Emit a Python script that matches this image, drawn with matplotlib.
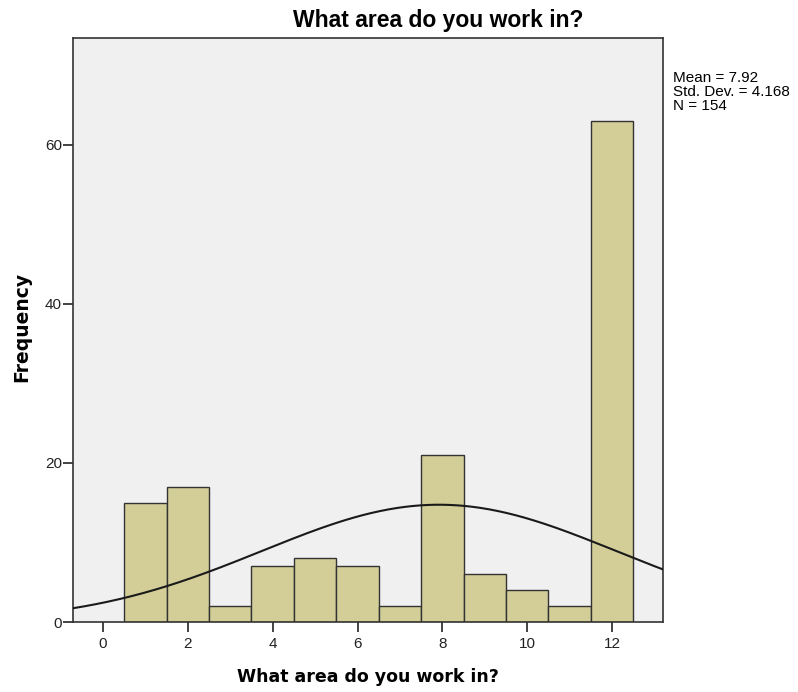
import matplotlib
matplotlib.use("Agg")
import matplotlib.pyplot as plt
import numpy as np

categories = [1, 2, 3, 4, 5, 6, 7, 8, 9, 10, 11, 12]
counts = [15, 17, 2, 7, 8, 7, 2, 21, 6, 4, 2, 63]
mean_val = 7.92
std_val = 4.168
n_val = 154
xticks = [0, 2, 4, 6, 8, 10, 12]
yticks = [0, 20, 40, 60]

plt.rcParams['font.family'] = ['Liberation Sans', 'DejaVu Sans']

fig = plt.figure(figsize=(7.98, 6.92), dpi=100)
ax = fig.add_axes([73/798, 70/692, 590/798, 584/692])
ax.set_facecolor('#f0f0f0')

ax.bar(categories, counts, width=1.0, color='#d3ce98', edgecolor='#333333', linewidth=1.0, zorder=2)

xs = np.linspace(-0.72, 13.2, 400)
ys = n_val * 1.0 / (std_val * np.sqrt(2 * np.pi)) * np.exp(-0.5 * ((xs - mean_val) / std_val) ** 2)
ax.plot(xs, ys, color='#1a1a1a', linewidth=1.5, zorder=3)

ax.set_xlim(-0.707, 13.2)
ax.set_ylim(0, 73.4)
ax.set_xticks(xticks)
ax.set_yticks(yticks)
ax.tick_params(axis='both', direction='out', length=7, width=1.2, labelsize=11, colors='#222222')
ax.tick_params(axis='y', pad=1)
ax.tick_params(axis='x', pad=4)
for s in ax.spines.values():
    s.set_color('#333333')
    s.set_linewidth(1.2)

fig.text(438/798, 1 - 20/692, 'What area do you work in?',
         fontsize=16.5, fontweight='bold', ha='center', va='center')
ax.set_xlabel('What area do you work in?', fontsize=12.5, fontweight='bold',
              family='DejaVu Sans', labelpad=12)
ax.set_ylabel('Frequency', fontsize=13.5, fontweight='bold', family='DejaVu Sans')
ax.yaxis.set_label_coords(-42/590, 0.505)

fig.text(673/798, 1 - 92/692, 'Mean = 7.92\nStd. Dev. = 4.168\nN = 154',
         fontsize=11, va='center', ha='left', linespacing=1.0)

fig.savefig('out.png', dpi=100)
